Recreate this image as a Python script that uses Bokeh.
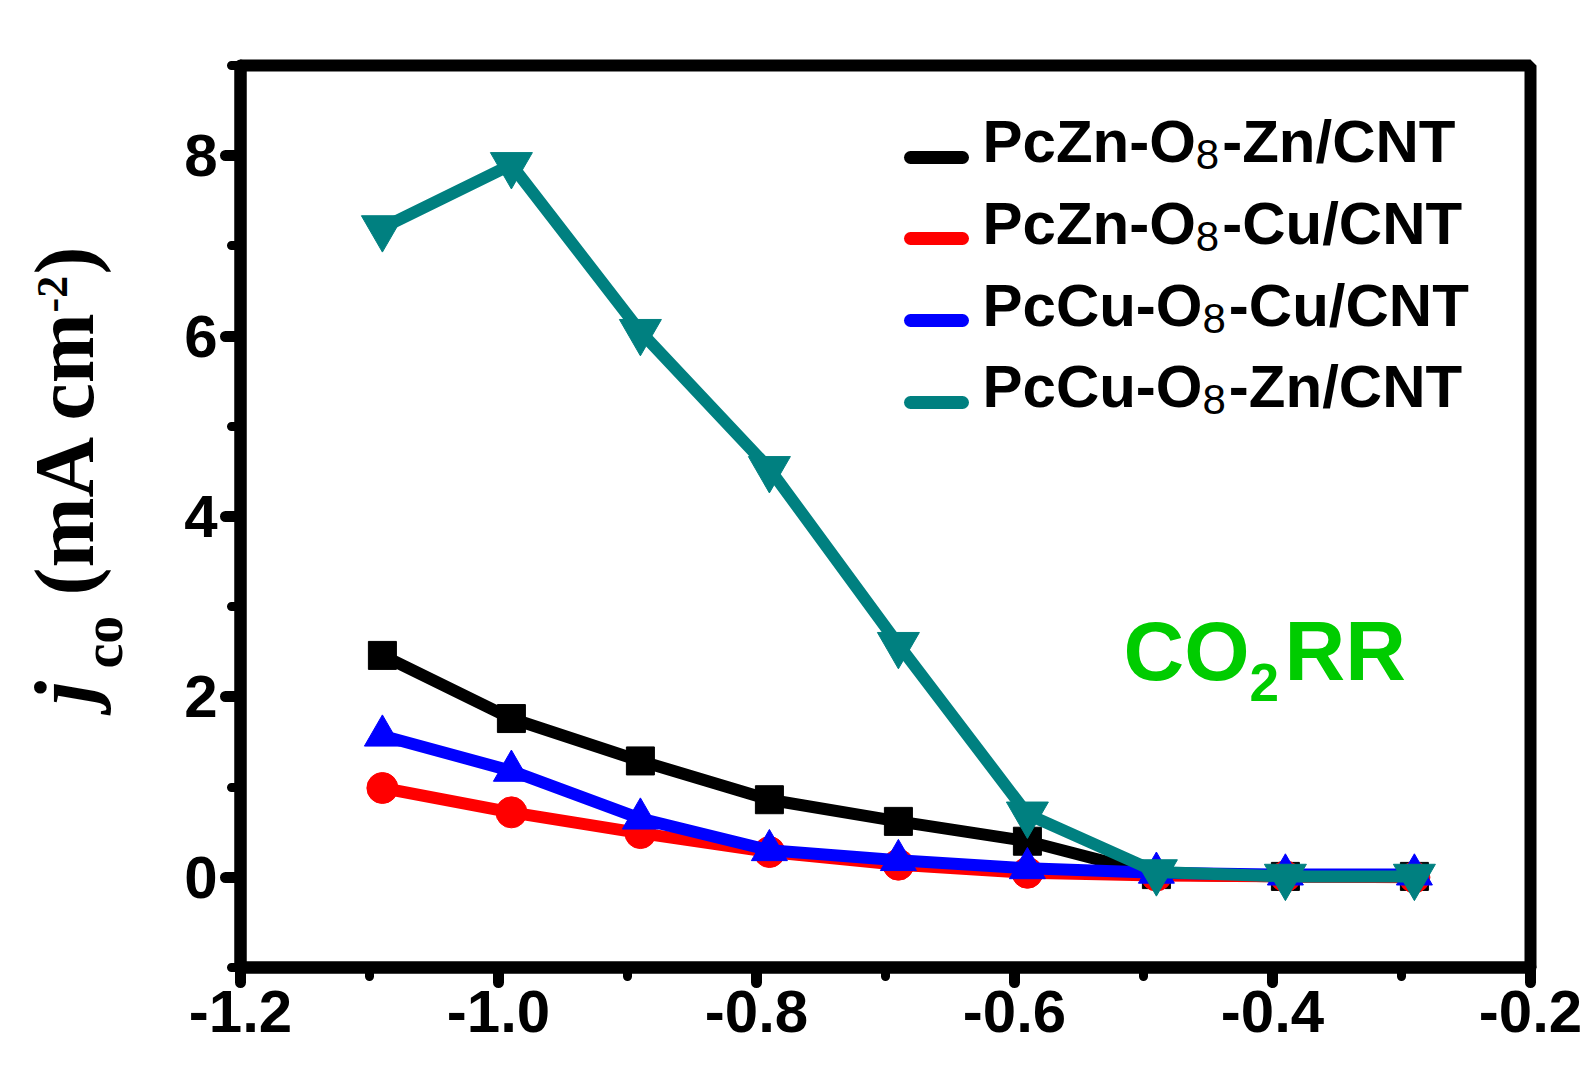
from bokeh.plotting import figure
from bokeh.layouts import row
from bokeh.models import Label, FixedTicker, NumeralTickFormatter
from bokeh.core.properties import value
from bokeh.embed import file_html
from bokeh.resources import INLINE
import math

# ---------------- data ----------------
potential = [-1.09, -0.99, -0.89, -0.79, -0.69, -0.59, -0.49, -0.39, -0.29]
pczn_o8_zn = [2.46, 1.76, 1.29, 0.86, 0.62, 0.40, 0.03, 0.01, 0.01]
pczn_o8_cu = [0.99, 0.72, 0.49, 0.28, 0.14, 0.05, 0.02, 0.01, 0.00]
pccu_o8_cu = [1.57, 1.18, 0.65, 0.30, 0.19, 0.10, 0.05, 0.03, 0.03]
pccu_o8_zn = [7.20, 7.90, 6.05, 4.53, 2.58, 0.70, 0.06, 0.01, 0.01]

# legend labels split as  prefix + subscript + suffix
label_prefix = ["PcZn-O", "PcZn-O", "PcCu-O", "PcCu-O"]
label_sub = ["8", "8", "8", "8"]
label_suffix = ["-Zn/CNT", "-Cu/CNT", "-Cu/CNT", "-Zn/CNT"]
series_values = [pczn_o8_zn, pczn_o8_cu, pccu_o8_cu, pccu_o8_zn]
series_colors = ["#000000", "#FF0000", "#0000FF", "#008080"]
series_markers = ["square", "circle", "triangle", "inverted_triangle"]
series_sizes = [28, 31, 36, 42]

x_major = [-1.2, -1.0, -0.8, -0.6, -0.4, -0.2]
x_minor = [-1.1, -0.9, -0.7, -0.5, -0.3]
y_major = [0, 2, 4, 6, 8]
y_minor = [-1, 1, 3, 5, 7, 9]

# ---------------- layout geometry ----------------
W, H = 1584, 1070
LW = 140                      # width of the y-label strip
X0, X1 = -1.2, -0.2
Y0, Y1 = -1.0, 9.0
FL, FT = 240, 65              # frame left / top on page
BR, BB = 54, 103
FW = W - FL - BR
FH = H - FT - BB
K = 0.37                      # alphabetic-baseline correction (fraction of font size)

def sx(px):
    return X0 + (px - FL) / FW * (X1 - X0)

def sy(py):
    return Y1 - (py - FT) / FH * (Y1 - Y0)

# Arial/Liberation Sans Bold advance widths (per 1000 em)
ADV = {"P": 667, "c": 556, "Z": 611, "n": 611, "-": 333, "O": 778,
       "C": 722, "u": 611, "/": 278, "N": 722, "T": 611, "8": 556}

def text_w(s, fs):
    return sum(ADV[ch] for ch in s) * fs / 1000.0

p = figure(width=W - LW, height=H, x_range=(X0, X1), y_range=(Y0, Y1),
           output_backend="svg", toolbar_location=None,
           min_border_left=FL - LW, min_border_right=BR,
           min_border_top=FT, min_border_bottom=BB)
p.background_fill_color = "white"
p.border_fill_color = "white"
p.xgrid.visible = False
p.ygrid.visible = False
p.outline_line_color = "black"
p.outline_line_width = 12

p.xaxis.ticker = FixedTicker(ticks=x_major, minor_ticks=x_minor)
p.yaxis.ticker = FixedTicker(ticks=y_major, minor_ticks=y_minor)
p.xaxis.formatter = NumeralTickFormatter(format="0.0")
p.yaxis.formatter = NumeralTickFormatter(format="0")

for ax in (p.xaxis, p.yaxis):
    ax.axis_line_width = 12
    ax.axis_line_color = "black"
    ax.axis_line_cap = "round"
    ax.major_tick_out = 15
    ax.major_tick_in = 0
    ax.minor_tick_out = 9
    ax.minor_tick_in = 0
    ax.major_tick_line_width = 11
    ax.minor_tick_line_width = 9
    ax.major_tick_line_cap = "round"
    ax.minor_tick_line_cap = "round"
    ax.major_tick_line_color = "black"
    ax.minor_tick_line_color = "black"
    ax.major_label_text_font = "Liberation Sans"
    ax.major_label_text_font_style = "bold"
    ax.major_label_text_font_size = "60px"
    ax.major_label_text_color = "black"
    ax.major_label_standoff = 8
    ax.axis_label = None

# ---------------- series ----------------
for vals, col, mk, sz in zip(series_values, series_colors, series_markers, series_sizes):
    p.line(potential, vals, line_color=col, line_width=12, line_join="round")
    p.scatter(potential, vals, marker=mk, size=sz, fill_color=col, line_color=col)

# ---------------- legend (drawn manually) ----------------
row_line_px = [157, 238, 320, 402]
row_base_px = [163, 245, 327, 408]
TX = 982
FS_MAIN, FS_SUB = 60, 42
for pre, sub, suf, col, mk, lp, bp in zip(label_prefix, label_sub, label_suffix,
                                          series_colors, series_markers,
                                          row_line_px, row_base_px):
    p.line([sx(910), sx(962)], [sy(lp), sy(lp)], line_color=col, line_width=13,
           line_cap="round")
    p.scatter([sx(936)], [sy(lp)], marker=mk, size=10, fill_color=col, line_color=col)
    x_sub = TX + text_w(pre, FS_MAIN)
    x_suf = x_sub + ADV["8"] * FS_SUB / 1000.0 + 3
    for txt, xp, yp, fs, st in [(pre, TX, bp, FS_MAIN, "bold"),
                                (sub, x_sub, bp + 7, FS_SUB, "normal"),
                                (suf, x_suf, bp, FS_MAIN, "bold")]:
        p.text([sx(xp)], [sy(yp - K * fs)], text=[txt],
               text_font=value("Liberation Sans"), text_font_style=st,
               text_font_size=f"{fs}px", text_color="black",
               text_align="left", text_baseline="alphabetic")

# ---------------- CO2RR annotation ----------------
green = "#00CC00"
for txt, px, py, fs in [("CO", 1123, 682, 84), ("2", 1249, 702, 53),
                        ("RR", 1284, 682, 84)]:
    p.add_layout(Label(x=sx(px), y=sy(py - K * fs), text=txt,
                       text_font="Liberation Sans", text_font_style="bold",
                       text_font_size=f"{fs}px", text_color=green,
                       text_align="left", text_baseline="alphabetic"))

# ---------------- y-axis label strip ----------------
# its frame is aligned with the main frame by the row layout, so use a
# y range that maps data y == page height - page pixel row
lab = figure(width=LW, height=H, x_range=(0, LW), y_range=(BB, H - FT),
             output_backend="svg", toolbar_location=None,
             x_axis_location=None, y_axis_location=None,
             min_border_left=0, min_border_right=0,
             min_border_top=FT, min_border_bottom=BB)
lab.outline_line_color = None
lab.xgrid.visible = False
lab.ygrid.visible = False
lab.background_fill_color = "white"
lab.border_fill_color = "white"

# pieces of the rotated label: (text, centre-line x, start y on page, font px, style)
for txt, cx, sy0, fs, style in [("j", 64, 704, 84, "bold italic"),
                                ("co", 102, 668, 56, "bold"),
                                ("(mA cm", 64, 595, 84, "bold"),
                                ("-2", 52, 312, 44, "bold"),
                                (")", 64, 274, 84, "bold")]:
    lab.text([cx], [H - sy0], text=[txt], angle=math.pi / 2,
             text_font=value("Liberation Serif"), text_font_style=style,
             text_font_size=f"{fs}px", text_color="black",
             text_align="left", text_baseline="middle")

layout = row(lab, p, spacing=0)
open("out.html", "w").write(file_html(layout, INLINE))
